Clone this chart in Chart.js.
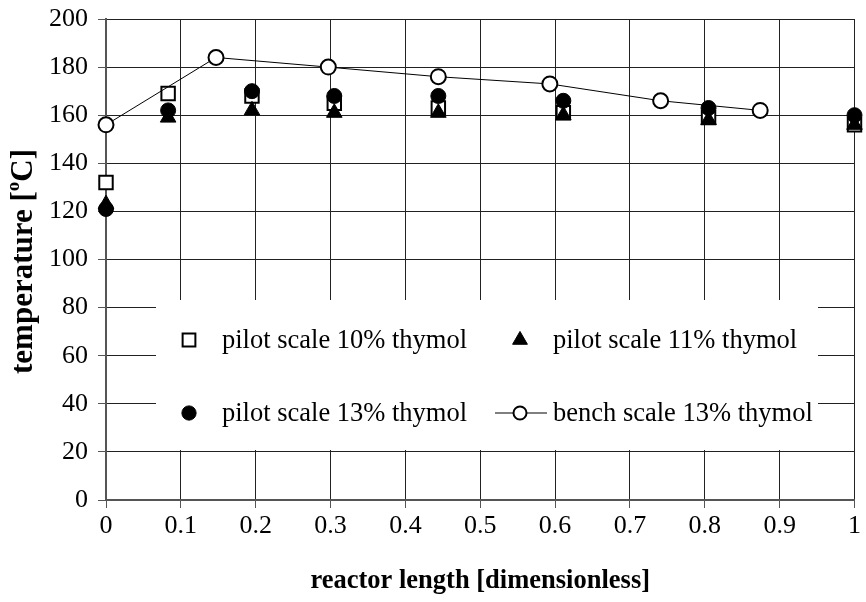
<!DOCTYPE html>
<html>
<head>
<meta charset="utf-8">
<script src="https://cdn.jsdelivr.net/npm/chart.js@4/dist/chart.umd.min.js"></script>
<style>
  html, body { margin: 0; padding: 0; background: #fff; }
  #wrap { width: 866px; height: 602px; }
</style>
</head>
<body>
<div id="wrap"><canvas id="chart" width="866" height="602"></canvas></div>
<script>
// Temperature profiles along the reactor (dimensionless length)
const pilotX  = [0, 0.083, 0.195, 0.305, 0.444, 0.611, 0.805, 1.0];
const pilot10 = [132, 169, 168, 165, 163, 161, 159, 156];
const pilot11 = [123, 159, 162, 161, 161, 160, 158, 156];
const pilot13 = [121, 162, 170, 168, 168, 166, 163, 160];

const benchX  = [0, 0.147, 0.297, 0.444, 0.593, 0.741, 0.874];
const bench13 = [156, 184, 180, 176, 173, 166, 162];

const xTickValues = [0, 0.1, 0.2, 0.3, 0.4, 0.5, 0.6, 0.7, 0.8, 0.9, 1];
const xTickLabels = ['0', '0.1', '0.2', '0.3', '0.4', '0.5', '0.6', '0.7', '0.8', '0.9', '1'];
const yTickValues = [0, 20, 40, 60, 80, 100, 120, 140, 160, 180, 200];

const seriesNames = [
  'pilot scale 10% thymol',
  'pilot scale 11% thymol',
  'pilot scale 13% thymol',
  'bench scale 13% thymol'
];

const xTitle = 'reactor length [dimensionless]';
const yTitleParts = ['temperature [', 'o', 'C]'];

const SERIF = '"Liberation Serif", "Times New Roman", serif';

function pts(xs, ys) { return xs.map((x, i) => ({ x: x, y: ys[i] })); }

const styles = [
  { pointStyle: 'rect', radius: 9.5, backgroundColor: '#fff', borderColor: '#000', borderWidth: 2 },
  { pointStyle: 'triangle', radius: 9, backgroundColor: '#000', borderColor: '#000', borderWidth: 1 },
  { pointStyle: 'circle', radius: 7.5, backgroundColor: '#000', borderColor: '#000', borderWidth: 1 },
  { pointStyle: 'circle', radius: 7.5, backgroundColor: '#fff', borderColor: '#000', borderWidth: 2 }
];

function makeSet(i, data, line, order) {
  const s = styles[i];
  return {
    label: seriesNames[i],
    data: data,
    showLine: line,
    borderColor: '#000',
    borderWidth: 1,
    pointStyle: s.pointStyle,
    pointRadius: s.radius,
    pointHoverRadius: s.radius,
    pointBackgroundColor: s.backgroundColor,
    pointBorderColor: s.borderColor,
    pointBorderWidth: s.borderWidth,
    clip: false,
    order: order
  };
}

// Scales should not reserve extra room for their outermost labels
function noLabelPadding(scale) {
  scale.paddingTop = 0;
  scale.paddingBottom = 0;
  scale.paddingLeft = 0;
  scale.paddingRight = 0;
}

// In-plot legend laid out as a 2 x 2 grid on a white panel
const boxLegend = {
  id: 'boxLegend',
  beforeDatasetsDraw(chart) {
    const ctx = chart.ctx;
    const a = chart.chartArea;
    const left = a.left + 50, right = a.left + 712;
    const top = a.top + 281, bottom = a.top + 431;
    ctx.save();
    ctx.fillStyle = '#fff';
    ctx.fillRect(left, top, right - left, bottom - top);

    const cols = [a.left + 83, a.left + 414];
    const rows = [a.top + 321, a.top + 394];
    const cells = [[0, 0], [1, 0], [0, 1], [1, 1]];
    ctx.font = '26.5px ' + SERIF;
    ctx.textBaseline = 'middle';
    ctx.textAlign = 'left';
    cells.forEach(([c, r], i) => {
      const x = cols[c], y = rows[r];
      const s = styles[i];
      if (i === 3) {
        ctx.strokeStyle = '#000';
        ctx.lineWidth = 1;
        ctx.beginPath();
        ctx.moveTo(x - 25, y);
        ctx.lineTo(x + 27, y);
        ctx.stroke();
      }
      ctx.fillStyle = s.backgroundColor;
      ctx.strokeStyle = s.borderColor;
      ctx.lineWidth = s.borderWidth;
      Chart.helpers.drawPoint(ctx, {
        pointStyle: s.pointStyle,
        radius: i === 3 ? 6.5 : s.radius * 0.95,
        borderWidth: s.borderWidth
      }, x, y);
      ctx.fillStyle = '#000';
      ctx.fillText(seriesNames[i], x + 33, y + 1);
    });
    ctx.restore();
  }
};

// Axis titles (the y title carries a superscript "o")
const axisTitles = {
  id: 'axisTitles',
  afterDraw(chart) {
    const ctx = chart.ctx;
    const a = chart.chartArea;
    ctx.save();
    ctx.fillStyle = '#000';
    ctx.textBaseline = 'middle';
    ctx.font = 'bold 26.5px ' + SERIF;
    ctx.textAlign = 'center';
    ctx.fillText(xTitle, (a.left + a.right) / 2, a.bottom + 81);

    const big = 'bold 31px ' + SERIF;
    const small = 'bold 19px ' + SERIF;
    ctx.font = big;
    const w0 = ctx.measureText(yTitleParts[0]).width;
    const w2 = ctx.measureText(yTitleParts[2]).width;
    ctx.font = small;
    const w1 = ctx.measureText(yTitleParts[1]).width;
    const total = w0 + w1 + w2;
    ctx.translate(24, (a.top + a.bottom) / 2 + 2);
    ctx.rotate(-Math.PI / 2);
    ctx.textAlign = 'left';
    let x = -total / 2;
    ctx.font = big;
    ctx.fillText(yTitleParts[0], x, 0);
    x += w0;
    ctx.font = small;
    ctx.fillText(yTitleParts[1], x, -10);
    x += w1;
    ctx.font = big;
    ctx.fillText(yTitleParts[2], x, 0);
    ctx.restore();
  }
};

new Chart(document.getElementById('chart'), {
  type: 'scatter',
  data: {
    datasets: [
      makeSet(0, pts(pilotX, pilot10), false, 3),
      makeSet(1, pts(pilotX, pilot11), false, 2),
      makeSet(2, pts(pilotX, pilot13), false, 1),
      makeSet(3, pts(benchX, bench13), true, 0)
    ]
  },
  options: {
    responsive: false,
    animation: false,
    events: [],
    layout: { padding: { top: 19, right: 8, left: 0, bottom: 0 } },
    plugins: {
      legend: { display: false },
      tooltip: { enabled: false }
    },
    scales: {
      x: {
        type: 'linear',
        min: 0,
        max: 1,
        afterBuildTicks(scale) { scale.ticks = xTickValues.map(v => ({ value: v })); },
        afterFit(scale) { scale.height = 102; noLabelPadding(scale); },
        ticks: {
          color: '#000',
          font: { family: SERIF, size: 26 },
          padding: 3,
          maxRotation: 0,
          autoSkip: false,
          callback: (v, i) => xTickLabels[i]
        },
        grid: { color: '#222', lineWidth: 1, tickLength: 8, tickColor: '#555' },
        border: { color: '#555', width: 2 }
      },
      y: {
        type: 'linear',
        min: 0,
        max: 200,
        afterBuildTicks(scale) { scale.ticks = yTickValues.map(v => ({ value: v })); },
        afterFit(scale) { scale.width = 106; noLabelPadding(scale); },
        ticks: {
          color: '#000',
          font: { family: SERIF, size: 26 },
          padding: 10,
          autoSkip: false,
          callback: (v) => String(v)
        },
        grid: { color: '#222', lineWidth: 1, tickLength: 8, tickColor: '#555' },
        border: { color: '#555', width: 2 }
      }
    }
  },
  plugins: [boxLegend, axisTitles]
});
</script>
</body>
</html>
